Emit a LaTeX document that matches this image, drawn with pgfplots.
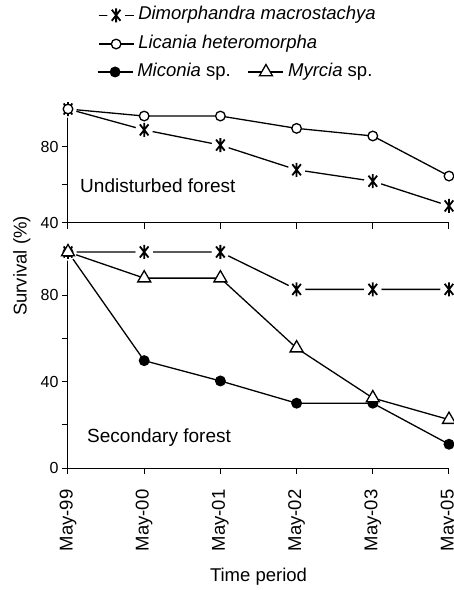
\documentclass[border=0pt]{standalone}
\usepackage{pgfplots}
\pgfplotsset{compat=1.18}
\usepackage{fontspec}
\setmainfont{Liberation Sans}
\newcommand\lfont{\fontsize{18.5bp}{21bp}\selectfont}
\newcommand\tfont{\fontsize{16bp}{19bp}\selectfont}
\pgfdeclareplotmark{gapast}{%
  \begin{pgfscope}%
    \pgfsetfillcolor{white}%
    \pgfpathcircle{\pgfpointorigin}{1.25\pgfplotmarksize}%
    \pgfusepath{fill}%
  \end{pgfscope}%
  \pgfsetlinewidth{1.8bp}%
  \pgfpathmoveto{\pgfqpoint{0pt}{\pgfplotmarksize}}%
  \pgfpathlineto{\pgfqpoint{0pt}{-\pgfplotmarksize}}%
  \pgfpathmoveto{\pgfpointpolar{52}{\pgfplotmarksize}}%
  \pgfpathlineto{\pgfpointpolar{232}{\pgfplotmarksize}}%
  \pgfpathmoveto{\pgfpointpolar{128}{\pgfplotmarksize}}%
  \pgfpathlineto{\pgfpointpolar{308}{\pgfplotmarksize}}%
  \pgfusepathqstroke
}
\pgfplotsset{
  common/.style={
    scale only axis, width=381bp, xmin=0, xmax=5, clip=false,
    axis x line*=bottom, axis y line*=left,
    axis line style={-, line width=1bp},
    every tick/.style={black, line width=1bp},
    tick align=outside, major tick length=6bp,
    xtick={0,1,2,3,4,5},
    /pgf/number format/assume math mode=true,
    yticklabel style={font=\tfont},
    legend cell align=left,
    legend image code/.code={\draw[mark repeat=2,mark phase=2] plot coordinates {(0bp,0bp)(17.5bp,0bp)(35bp,0bp)};},
  },
  ser/.style={black, line width=1.3bp, mark options={solid, line width=1.3bp}},
}
\begin{document}
\begin{tikzpicture}
\begin{axis}[common, name=top, at={(0,245bp)}, anchor=south west, height=114bp,
  ymin=40, ymax=100, ytick={40,60,80,100}, yticklabels={40,,80,}, xticklabels={},
  legend style={at={(rel axis cs:0.0787,1.899)}, anchor=north west, draw=none, fill=none,
    inner sep=0pt, outer sep=0pt, row sep=11.5bp,
    nodes={inner sep=0pt, text height=13bp, text depth=4bp, font=\lfont},
    /tikz/every odd column/.append style={column sep=4bp}},
]
\addplot[ser, mark=gapast, mark size=7bp] coordinates {(0,100)(1,89)(2,81)(3,68)(4,62)(5,49)};
\addlegendentry{\textit{Dimorphandra macrostachya}}
\addplot[ser, mark=*, mark size=4.8bp, mark options={fill=white}] coordinates {(0,100)(1,96.3)(2,96.3)(3,89.8)(4,85.8)(5,64.7)};
\addlegendentry{\textit{Licania heteromorpha}}
\node[anchor=base west, font=\fontsize{19bp}{22bp}\selectfont, inner sep=0pt] at (axis cs:0.158,55.8) {Undisturbed forest};
\end{axis}
\begin{axis}[common, name=bot, at={(0,0)}, anchor=south west, height=216bp,
  ymin=0, ymax=100, ytick={0,20,40,60,80,100}, yticklabels={0,,40,,80,},
  xticklabels={May-99,May-00,May-01,May-02,May-03,May-05},
  xticklabel style={rotate=90, anchor=east, font=\lfont},
  xticklabel shift=12bp,
  xlabel={Time period}, xlabel style={font=\lfont, yshift=-10bp},
  ylabel={Survival (\%)}, ylabel style={at={(rel axis cs:-0.121,0.935)}, anchor=center, font=\lfont},
  legend columns=2,
  legend style={at={(rel axis cs:0.076,1.8727)}, anchor=north west, draw=none, fill=none,
    inner sep=0pt, outer sep=0pt,
    nodes={inner sep=0pt, text height=13bp, text depth=4bp, font=\lfont},
    /tikz/every odd column/.append style={column sep=4bp},
    /tikz/every even column/.append style={column sep=17bp}},
]
\addplot[ser, mark=gapast, mark size=7bp, forget plot] coordinates {(0,100)(1,100)(2,100)(3,82.7)(4,82.7)(5,82.7)};
\addplot[ser, mark=*, mark size=4.8bp, mark options={fill=black}] coordinates {(0,100)(1,49.7)(2,40.3)(3,30)(4,30)(5,11)};
\addlegendentry{\textit{Miconia} sp.}
\addplot[ser, mark=triangle*, mark size=7.5bp, mark options={fill=white}] coordinates {(0,100)(1,87.9)(2,87.9)(3,55.5)(4,32.4)(5,22.4)};
\addlegendentry{\textit{Myrcia} sp.}
\node[anchor=base west, font=\fontsize{19bp}{22bp}\selectfont, inner sep=0pt] at (axis cs:0.25,11.7) {Secondary forest};
\end{axis}
\pgfresetboundingbox
\useasboundingbox (-68bp,-122bp) rectangle (386bp,468bp);
\end{tikzpicture}
\end{document}
